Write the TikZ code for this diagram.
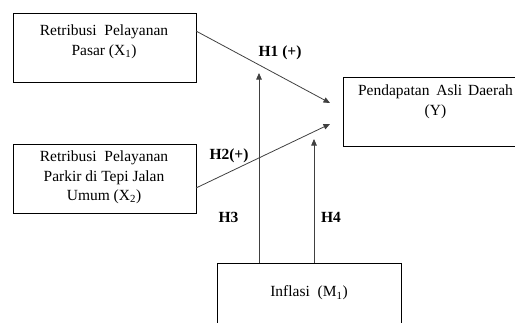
\documentclass[tikz,border=0pt]{standalone}
\usepackage{fontspec}
\setmainfont{Liberation Serif}
\usetikzlibrary{arrows.meta}
\begin{document}
\begin{tikzpicture}[x=1pt,y=-1pt,
  varbox/.style={draw=black,line width=1.3pt,rectangle,inner sep=0pt,anchor=north west},
  boxtext/.style={align=center,font=\fontsize{15.5}{19.5}\selectfont,inner sep=0pt},
  hlabel/.style={font=\fontsize{15.5}{19}\selectfont\bfseries,inner sep=0pt},
  link/.style={draw=black!75,line width=0.8pt,-{Triangle[length=6.5pt,width=5.5pt]}}]
\useasboundingbox (0,0) rectangle (515,322);
\clip (0,0) rectangle (515,322);
% boxes
\node[varbox,minimum width=183.5pt,minimum height=69pt] (x1) at (12.5,13) {};
\node[varbox,minimum width=183.5pt,minimum height=69pt] (x2) at (12.5,144) {};
\node[varbox,minimum width=180pt,minimum height=69.5pt] (y) at (343,76.5) {};
\node[varbox,minimum width=184pt,minimum height=80pt] (m) at (217,263) {};
% texts
\node[boxtext] (tx1) at (104,42) {Retribusi\ \ Pelayanan\\Pasar (X\textsubscript{1})};
\node[boxtext] (tx2) at (104,177.5) {Retribusi\ \ Pelayanan\\Parkir di Tepi Jalan\\Umum (X\textsubscript{2})};
\node[boxtext] (ty) at (435.5,102) {Pendapatan\ \hspace{3pt}Asli\ \hspace{2pt}Daerah\\(Y)};
\node[boxtext] (tm) at (309,293) {Inflasi\ \ (M\textsubscript{1})};
% targets
\coordinate (t1) at (330,103);
\coordinate (t2) at (330,124);
\coordinate (t3) at (259,73);
\coordinate (t4) at (314,139);
\coordinate (s1) at (196,31);
\coordinate (s2) at (196,188);
\coordinate (s3) at (259,263);
\coordinate (s4) at (314,263);
% arrows
\draw[link] (s1) -- (t1);
\draw[link] (s2) -- (t2);
\draw[link] (s3) -- (t3);
\draw[link] (s4) -- (t4);
% labels
\node[hlabel] (h1) at (280,53) {H1 (+)};
\node[hlabel] (h2) at (229,156) {H2(+)};
\node[hlabel] (h3) at (228.5,217) {H3};
\node[hlabel] (h4) at (331,217) {H4};
\end{tikzpicture}
\end{document}
